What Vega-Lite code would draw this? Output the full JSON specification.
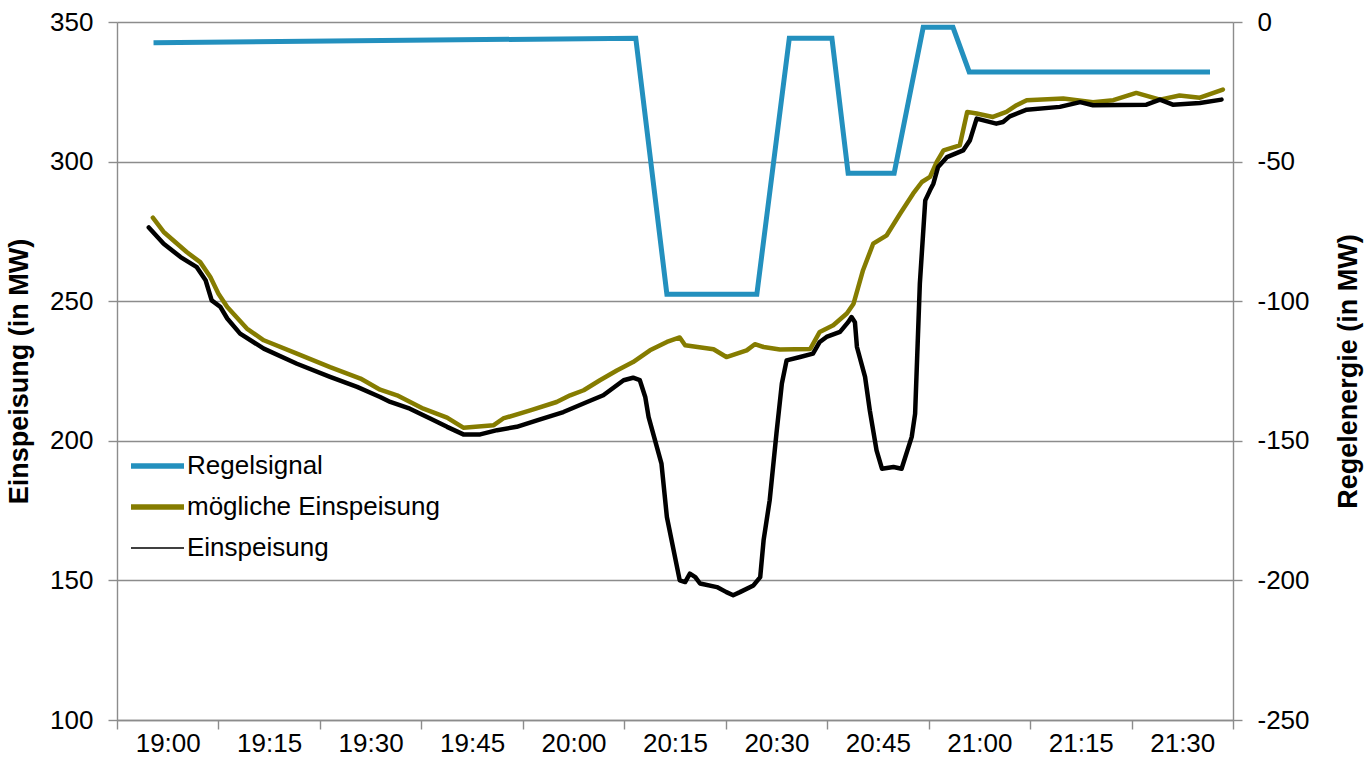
{
  "$schema": "https://vega.github.io/schema/vega-lite/v6.json",
  "width": 1116,
  "height": 698,
  "autosize": {"type": "none"},
  "padding": {"left": 117, "top": 22, "right": 135, "bottom": 37},
  "background": "white",
  "config": {
    "font": "Liberation Sans",
    "view": {"stroke": null},
    "axis": {
      "domainColor": "#8c8c8c", "domainWidth": 1.4,
      "tickColor": "#8c8c8c", "tickWidth": 1.4, "tickSize": 9,
      "gridColor": "#8c8c8c", "gridWidth": 1.3,
      "labelFont": "Liberation Sans", "labelFontSize": 26, "labelColor": "#000000",
      "titleFont": "Liberation Sans", "titleFontSize": 27, "titleFontWeight": "bold", "titleColor": "#000000"
    }
  },
  "data": {
    "values": [
      {"reihe": "mögliche Einspeisung", "min": -2.2, "wert": 279.9},
      {"reihe": "mögliche Einspeisung", "min": -0.6, "wert": 274.8},
      {"reihe": "mögliche Einspeisung", "min": 2.8, "wert": 267.6},
      {"reihe": "mögliche Einspeisung", "min": 4.8, "wert": 264.0},
      {"reihe": "mögliche Einspeisung", "min": 6.3, "wert": 258.7},
      {"reihe": "mögliche Einspeisung", "min": 7.5, "wert": 252.7},
      {"reihe": "mögliche Einspeisung", "min": 8.8, "wert": 247.9},
      {"reihe": "mögliche Einspeisung", "min": 11.7, "wert": 240.2},
      {"reihe": "mögliche Einspeisung", "min": 14.2, "wert": 236.0},
      {"reihe": "mögliche Einspeisung", "min": 19.1, "wert": 231.2},
      {"reihe": "mögliche Einspeisung", "min": 24.0, "wert": 226.4},
      {"reihe": "mögliche Einspeisung", "min": 28.5, "wert": 222.3},
      {"reihe": "mögliche Einspeisung", "min": 31.4, "wert": 218.3},
      {"reihe": "mögliche Einspeisung", "min": 33.9, "wert": 216.3},
      {"reihe": "mögliche Einspeisung", "min": 37.8, "wert": 211.5},
      {"reihe": "mögliche Einspeisung", "min": 41.3, "wert": 208.3},
      {"reihe": "mögliche Einspeisung", "min": 43.7, "wert": 204.7},
      {"reihe": "mögliche Einspeisung", "min": 48.2, "wert": 205.6},
      {"reihe": "mögliche Einspeisung", "min": 49.6, "wert": 208.0},
      {"reihe": "mögliche Einspeisung", "min": 53.6, "wert": 210.9},
      {"reihe": "mögliche Einspeisung", "min": 57.5, "wert": 213.9},
      {"reihe": "mögliche Einspeisung", "min": 59.5, "wert": 216.3},
      {"reihe": "mögliche Einspeisung", "min": 61.5, "wert": 218.1},
      {"reihe": "mögliche Einspeisung", "min": 63.9, "wert": 221.7},
      {"reihe": "mögliche Einspeisung", "min": 66.4, "wert": 225.2},
      {"reihe": "mögliche Einspeisung", "min": 68.8, "wert": 228.2},
      {"reihe": "mögliche Einspeisung", "min": 71.3, "wert": 232.4},
      {"reihe": "mögliche Einspeisung", "min": 73.8, "wert": 235.4},
      {"reihe": "mögliche Einspeisung", "min": 75.7, "wert": 237.0},
      {"reihe": "mögliche Einspeisung", "min": 76.5, "wert": 234.2},
      {"reihe": "mögliche Einspeisung", "min": 80.7, "wert": 232.8},
      {"reihe": "mögliche Einspeisung", "min": 82.6, "wert": 230.0},
      {"reihe": "mögliche Einspeisung", "min": 85.6, "wert": 232.4},
      {"reihe": "mögliche Einspeisung", "min": 86.8, "wert": 234.6},
      {"reihe": "mögliche Einspeisung", "min": 88.1, "wert": 233.6},
      {"reihe": "mögliche Einspeisung", "min": 90.5, "wert": 232.7},
      {"reihe": "mögliche Einspeisung", "min": 95.0, "wert": 232.9},
      {"reihe": "mögliche Einspeisung", "min": 96.4, "wert": 239.0},
      {"reihe": "mögliche Einspeisung", "min": 98.4, "wert": 241.4},
      {"reihe": "mögliche Einspeisung", "min": 100.4, "wert": 245.6},
      {"reihe": "mögliche Einspeisung", "min": 101.4, "wert": 249.1},
      {"reihe": "mögliche Einspeisung", "min": 102.8, "wert": 261.1},
      {"reihe": "mögliche Einspeisung", "min": 104.3, "wert": 270.6},
      {"reihe": "mögliche Einspeisung", "min": 106.3, "wert": 273.6},
      {"reihe": "mögliche Einspeisung", "min": 108.3, "wert": 281.4},
      {"reihe": "mögliche Einspeisung", "min": 110.2, "wert": 288.5},
      {"reihe": "mögliche Einspeisung", "min": 111.5, "wert": 292.7},
      {"reihe": "mögliche Einspeisung", "min": 112.7, "wert": 294.5},
      {"reihe": "mögliche Einspeisung", "min": 113.7, "wert": 299.9},
      {"reihe": "mögliche Einspeisung", "min": 114.7, "wert": 304.0},
      {"reihe": "mögliche Einspeisung", "min": 117.1, "wert": 305.8},
      {"reihe": "mögliche Einspeisung", "min": 118.2, "wert": 317.8},
      {"reihe": "mögliche Einspeisung", "min": 119.6, "wert": 317.2},
      {"reihe": "mögliche Einspeisung", "min": 122.0, "wert": 316.0},
      {"reihe": "mögliche Einspeisung", "min": 124.0, "wert": 317.8},
      {"reihe": "mögliche Einspeisung", "min": 125.5, "wert": 320.2},
      {"reihe": "mögliche Einspeisung", "min": 127.0, "wert": 322.0},
      {"reihe": "mögliche Einspeisung", "min": 132.4, "wert": 322.6},
      {"reihe": "mögliche Einspeisung", "min": 136.8, "wert": 321.3},
      {"reihe": "mögliche Einspeisung", "min": 139.8, "wert": 322.0},
      {"reihe": "mögliche Einspeisung", "min": 143.2, "wert": 324.6},
      {"reihe": "mögliche Einspeisung", "min": 146.7, "wert": 322.2},
      {"reihe": "mögliche Einspeisung", "min": 149.6, "wert": 323.7},
      {"reihe": "mögliche Einspeisung", "min": 152.6, "wert": 322.9},
      {"reihe": "mögliche Einspeisung", "min": 156.0, "wert": 325.8},

      {"reihe": "Einspeisung", "min": -2.8, "wert": 276.4},
      {"reihe": "Einspeisung", "min": -0.6, "wert": 270.6},
      {"reihe": "Einspeisung", "min": 1.9, "wert": 265.8},
      {"reihe": "Einspeisung", "min": 4.3, "wert": 262.2},
      {"reihe": "Einspeisung", "min": 5.6, "wert": 257.5},
      {"reihe": "Einspeisung", "min": 6.5, "wert": 250.3},
      {"reihe": "Einspeisung", "min": 7.8, "wert": 247.9},
      {"reihe": "Einspeisung", "min": 8.8, "wert": 243.8},
      {"reihe": "Einspeisung", "min": 10.7, "wert": 238.4},
      {"reihe": "Einspeisung", "min": 14.2, "wert": 233.0},
      {"reihe": "Einspeisung", "min": 19.1, "wert": 227.6},
      {"reihe": "Einspeisung", "min": 24.0, "wert": 222.9},
      {"reihe": "Einspeisung", "min": 28.0, "wert": 219.3},
      {"reihe": "Einspeisung", "min": 31.4, "wert": 215.7},
      {"reihe": "Einspeisung", "min": 32.9, "wert": 213.9},
      {"reihe": "Einspeisung", "min": 35.8, "wert": 211.5},
      {"reihe": "Einspeisung", "min": 38.8, "wert": 208.0},
      {"reihe": "Einspeisung", "min": 41.3, "wert": 205.0},
      {"reihe": "Einspeisung", "min": 43.7, "wert": 202.3},
      {"reihe": "Einspeisung", "min": 46.2, "wert": 202.3},
      {"reihe": "Einspeisung", "min": 48.7, "wert": 203.8},
      {"reihe": "Einspeisung", "min": 51.6, "wert": 205.0},
      {"reihe": "Einspeisung", "min": 54.6, "wert": 207.3},
      {"reihe": "Einspeisung", "min": 58.5, "wert": 210.3},
      {"reihe": "Einspeisung", "min": 62.0, "wert": 213.9},
      {"reihe": "Einspeisung", "min": 64.4, "wert": 216.3},
      {"reihe": "Einspeisung", "min": 67.4, "wert": 221.7},
      {"reihe": "Einspeisung", "min": 68.8, "wert": 222.6},
      {"reihe": "Einspeisung", "min": 69.8, "wert": 221.7},
      {"reihe": "Einspeisung", "min": 70.6, "wert": 215.7},
      {"reihe": "Einspeisung", "min": 71.1, "wert": 208.5},
      {"reihe": "Einspeisung", "min": 73.0, "wert": 191.8},
      {"reihe": "Einspeisung", "min": 73.8, "wert": 172.7},
      {"reihe": "Einspeisung", "min": 75.7, "wert": 150.0},
      {"reihe": "Einspeisung", "min": 76.5, "wert": 149.4},
      {"reihe": "Einspeisung", "min": 77.2, "wert": 152.4},
      {"reihe": "Einspeisung", "min": 78.0, "wert": 151.2},
      {"reihe": "Einspeisung", "min": 78.7, "wert": 148.9},
      {"reihe": "Einspeisung", "min": 81.2, "wert": 147.6},
      {"reihe": "Einspeisung", "min": 82.6, "wert": 145.8},
      {"reihe": "Einspeisung", "min": 83.6, "wert": 144.7},
      {"reihe": "Einspeisung", "min": 84.6, "wert": 145.8},
      {"reihe": "Einspeisung", "min": 86.6, "wert": 148.2},
      {"reihe": "Einspeisung", "min": 87.6, "wert": 151.2},
      {"reihe": "Einspeisung", "min": 88.1, "wert": 164.4},
      {"reihe": "Einspeisung", "min": 89.0, "wert": 178.7},
      {"reihe": "Einspeisung", "min": 90.0, "wert": 202.6},
      {"reihe": "Einspeisung", "min": 90.8, "wert": 220.5},
      {"reihe": "Einspeisung", "min": 91.5, "wert": 228.8},
      {"reihe": "Einspeisung", "min": 93.5, "wert": 230.0},
      {"reihe": "Einspeisung", "min": 95.4, "wert": 231.2},
      {"reihe": "Einspeisung", "min": 96.4, "wert": 235.4},
      {"reihe": "Einspeisung", "min": 97.4, "wert": 237.2},
      {"reihe": "Einspeisung", "min": 99.4, "wert": 239.0},
      {"reihe": "Einspeisung", "min": 100.6, "wert": 242.5},
      {"reihe": "Einspeisung", "min": 101.1, "wert": 244.3},
      {"reihe": "Einspeisung", "min": 101.6, "wert": 242.5},
      {"reihe": "Einspeisung", "min": 101.9, "wert": 233.6},
      {"reihe": "Einspeisung", "min": 103.1, "wert": 222.9},
      {"reihe": "Einspeisung", "min": 103.8, "wert": 210.9},
      {"reihe": "Einspeisung", "min": 104.8, "wert": 196.6},
      {"reihe": "Einspeisung", "min": 105.6, "wert": 190.0},
      {"reihe": "Einspeisung", "min": 107.3, "wert": 190.6},
      {"reihe": "Einspeisung", "min": 108.5, "wert": 190.0},
      {"reihe": "Einspeisung", "min": 110.0, "wert": 201.4},
      {"reihe": "Einspeisung", "min": 110.5, "wert": 209.7},
      {"reihe": "Einspeisung", "min": 111.2, "wert": 256.3},
      {"reihe": "Einspeisung", "min": 112.0, "wert": 286.1},
      {"reihe": "Einspeisung", "min": 112.7, "wert": 289.7},
      {"reihe": "Einspeisung", "min": 113.2, "wert": 292.1},
      {"reihe": "Einspeisung", "min": 113.9, "wert": 298.1},
      {"reihe": "Einspeisung", "min": 115.2, "wert": 301.6},
      {"reihe": "Einspeisung", "min": 117.6, "wert": 304.0},
      {"reihe": "Einspeisung", "min": 118.6, "wert": 307.6},
      {"reihe": "Einspeisung", "min": 119.6, "wert": 315.4},
      {"reihe": "Einspeisung", "min": 122.5, "wert": 313.6},
      {"reihe": "Einspeisung", "min": 123.5, "wert": 314.2},
      {"reihe": "Einspeisung", "min": 124.5, "wert": 316.2},
      {"reihe": "Einspeisung", "min": 127.0, "wert": 318.6},
      {"reihe": "Einspeisung", "min": 131.9, "wert": 319.6},
      {"reihe": "Einspeisung", "min": 134.9, "wert": 321.3},
      {"reihe": "Einspeisung", "min": 136.8, "wert": 320.2},
      {"reihe": "Einspeisung", "min": 144.7, "wert": 320.4},
      {"reihe": "Einspeisung", "min": 146.7, "wert": 322.2},
      {"reihe": "Einspeisung", "min": 148.6, "wert": 320.4},
      {"reihe": "Einspeisung", "min": 152.6, "wert": 321.0},
      {"reihe": "Einspeisung", "min": 155.8, "wert": 322.2},

      {"reihe": "Regelsignal", "min": -2.1, "wert": -7.4},
      {"reihe": "Regelsignal", "min": 69.2, "wert": -5.8},
      {"reihe": "Regelsignal", "min": 73.8, "wert": -97.5},
      {"reihe": "Regelsignal", "min": 87.1, "wert": -97.5},
      {"reihe": "Regelsignal", "min": 91.9, "wert": -5.8},
      {"reihe": "Regelsignal", "min": 98.2, "wert": -5.8},
      {"reihe": "Regelsignal", "min": 100.6, "wert": -54.2},
      {"reihe": "Regelsignal", "min": 107.4, "wert": -54.2},
      {"reihe": "Regelsignal", "min": 111.7, "wert": -1.9},
      {"reihe": "Regelsignal", "min": 116.1, "wert": -1.9},
      {"reihe": "Regelsignal", "min": 118.5, "wert": -17.9},
      {"reihe": "Regelsignal", "min": 154.1, "wert": -17.9}
    ]
  },
  "encoding": {
    "x": {
      "field": "min", "type": "quantitative",
      "scale": {"domain": [-7.5, 157.5], "nice": false, "zero": false},
      "axis": {
        "title": null, "grid": false,
        "values": [-7.5, 7.5, 22.5, 37.5, 52.5, 67.5, 82.5, 97.5, 112.5, 127.5, 142.5, 157.5],
        "labelOffset": 50.7, "labelPadding": 1, "labelFlush": false, "labelOverlap": false, "labelBound": false,
        "labelExpr": "datum.value > 150 ? '' : (19 + floor((datum.value + 7.5) / 60)) + ':' + ((((datum.value + 7.5) % 60) < 10) ? '0' : '') + ((datum.value + 7.5) % 60)"
      }
    }
  },
  "layer": [
    {
      "encoding": {
        "y": {
          "field": "wert", "type": "quantitative",
          "scale": {"domain": [100, 350], "nice": false, "zero": false},
          "axis": {"title": "Einspeisung (in MW)", "values": [100, 150, 200, 250, 300, 350], "grid": true, "labelPadding": 15, "titlePadding": 16}
        }
      },
      "layer": [
        {
          "transform": [{"filter": "datum.reihe === 'mögliche Einspeisung'"}],
          "mark": {"type": "line", "strokeWidth": 4.5, "strokeJoin": "round", "strokeCap": "round"},
          "encoding": {
            "color": {
              "field": "reihe", "type": "nominal",
              "scale": {"domain": ["Regelsignal", "mögliche Einspeisung", "Einspeisung"], "range": ["#2390be", "#857c00", "#000000"]},
              "legend": {
                "title": null, "orient": "none", "legendX": 27.5, "legendY": 431,
                "labelFont": "Liberation Sans", "labelFontSize": 26, "labelColor": "#000000", "labelLimit": 0,
                "symbolType": "stroke", "symbolSize": 2809, "symbolStrokeWidth": 5, "labelOffset": 16.5, "rowPadding": 15,
                "encode": {
                  "symbols": {
                    "update": {
                      "strokeWidth": {"signal": "datum.value === 'Einspeisung' ? 1.5 : 5.5"},
                      "stroke": {"signal": "datum.value === 'Regelsignal' ? '#2390be' : datum.value === 'mögliche Einspeisung' ? '#b5a500' : '#000000'"}
                    }
                  }
                }
              }
            }
          }
        },
        {
          "transform": [{"filter": "datum.reihe === 'Einspeisung'"}],
          "mark": {"type": "line", "strokeWidth": 4.5, "strokeJoin": "round", "strokeCap": "round"},
          "encoding": {
            "color": {"field": "reihe", "type": "nominal"}
          }
        }
      ]
    },
    {
      "transform": [{"filter": "datum.reihe === 'Regelsignal'"}],
      "mark": {"type": "line", "strokeWidth": 5, "strokeJoin": "miter", "strokeCap": "butt"},
      "encoding": {
        "y": {
          "field": "wert", "type": "quantitative",
          "scale": {"domain": [-250, 0], "nice": false, "zero": false},
          "axis": {"orient": "right", "title": "Regelenergie (in MW)", "values": [-250, -200, -150, -100, -50, 0], "grid": false, "labelPadding": 15, "titlePadding": 53, "titleAngle": 270, "labelExpr": "datum.value + ''"}
        },
        "color": {"field": "reihe", "type": "nominal"}
      }
    }
  ],
  "resolve": {"scale": {"y": "independent"}}
}
